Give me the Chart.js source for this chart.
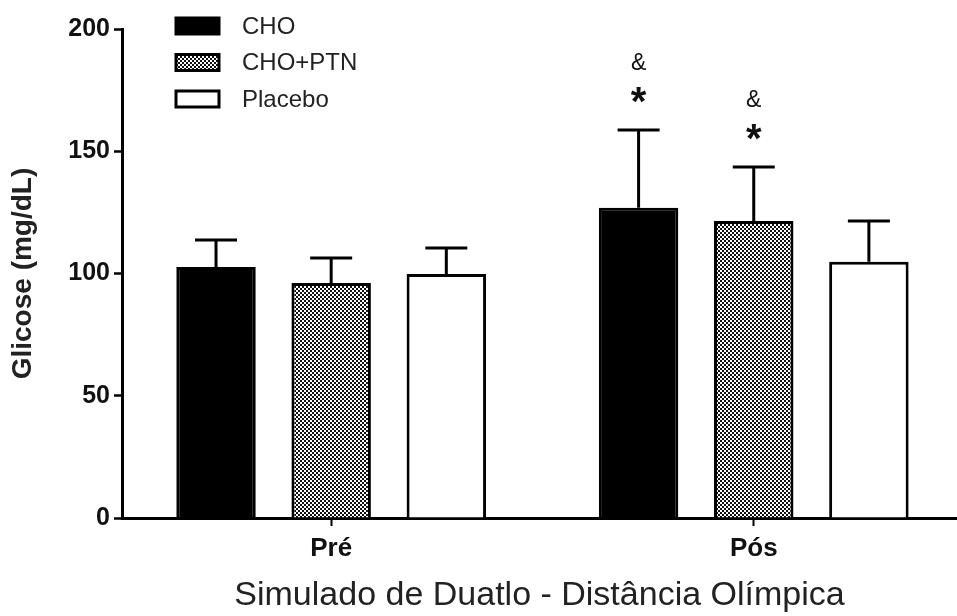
<!DOCTYPE html>
<html>
<head>
  <meta charset="UTF-8">
  <script src="https://cdn.jsdelivr.net/npm/chart.js"></script>
  <title>Glicose</title>
  <style>
    html, body { margin: 0; padding: 0; background: #fff; }
    #wrap { width: 957px; height: 616px; }
  </style>
</head>
<body>
<div id="wrap">
  <canvas id="glicose" width="957" height="616"></canvas>
</div>
<script>
  // data
  const moments = ['Pré', 'Pós'];
  const groups = ['CHO', 'CHO+PTN', 'Placebo'];
  const cho = [102.7, 126.9];
  const choPtn = [96.1, 121.5];
  const placebo = [99.8, 104.8];
  const choErr = [11.0, 31.8];
  const choPtnErr = [10.2, 22.1];
  const placeboErr = [10.6, 16.7];
  // '*' and '&' marks over each bar
  const choSig = [false, true];
  const choPtnSig = [false, true];
  const placeboSig = [false, false];
  const yTicks = [0, 50, 100, 150, 200];

  function dotPattern() {
    const c = document.createElement('canvas');
    c.width = 4; c.height = 4;
    const g = c.getContext('2d');
    g.fillStyle = '#ffffff';
    g.fillRect(0, 0, 4, 4);
    g.fillStyle = '#111111';
    g.fillRect(0, 0, 2, 2);
    g.fillRect(2, 2, 2, 2);
    return g.createPattern(c, 'repeat');
  }

  const fills = ['#000000', dotPattern(), '#ffffff'];
  const values = [cho, choPtn, placebo];
  const errs = [choErr, choPtnErr, placeboErr];
  const sigs = [choSig, choPtnSig, placeboSig];

  const errorBars = {
    id: 'errorBars',
    afterDatasetsDraw(chart) {
      const ctx = chart.ctx;
      const y = chart.scales.y;
      ctx.save();
      ctx.strokeStyle = '#000';
      ctx.lineWidth = 3;
      values.forEach((vals, d) => {
        const meta = chart.getDatasetMeta(d);
        meta.data.forEach((bar, i) => {
          const top = y.getPixelForValue(vals[i] + errs[d][i]);
          const base = y.getPixelForValue(vals[i]);
          ctx.beginPath();
          ctx.moveTo(bar.x, base);
          ctx.lineTo(bar.x, top);
          ctx.moveTo(bar.x - 21, top);
          ctx.lineTo(bar.x + 21, top);
          ctx.stroke();
          if (sigs[d][i]) {
            ctx.fillStyle = '#111';
            ctx.textAlign = 'center';
            ctx.textBaseline = 'alphabetic';
            ctx.font = 'bold 40px "Liberation Sans", Arial';
            ctx.fillText('*', bar.x, top - 15);
            ctx.font = '23px "Liberation Sans", Arial';
            ctx.fillText('&', bar.x, top - 60);
          }
        });
      });
      ctx.restore();
    }
  };

  const legendBoxes = {
    id: 'legendBoxes',
    afterDraw(chart) {
      const ctx = chart.ctx;
      ctx.save();
      chart.data.datasets.forEach((ds, d) => {
        const cy = 26 + d * 36.5;
        ctx.fillStyle = ds.backgroundColor;
        ctx.fillRect(176, cy - 8, 43, 16);
        ctx.strokeStyle = '#000';
        ctx.lineWidth = 3;
        ctx.strokeRect(176, cy - 8, 43, 16);
        ctx.fillStyle = '#222';
        ctx.font = '24px "Liberation Sans", Arial';
        ctx.textAlign = 'left';
        ctx.textBaseline = 'middle';
        ctx.fillText(ds.label, 242, cy + 1);
      });
      ctx.restore();
    }
  };

  const ctx = document.getElementById('glicose').getContext('2d');
  const config = {
    type: 'bar',
    data: {
      datasets: groups.map((name, d) => ({
        label: name,
        data: values[d].map((v, i) => ({x: i, y: v})),
        backgroundColor: fills[d],
        borderColor: '#000',
        borderWidth: 3,
        categoryPercentage: 0.8175,
        barPercentage: 0.69
      }))
    },
    options: {
      responsive: false,
      animation: false,
      devicePixelRatio: 1,
      layout: { padding: { top: 29, right: 0, left: 0, bottom: 0 } },
      plugins: { legend: { display: false }, tooltip: { enabled: false } },
      scales: {
        x: {
          type: 'linear',
          offset: false,
          min: -0.495,
          max: 1.481,
          afterBuildTicks: s => { s.ticks = moments.map((m, i) => ({value: i})); },
          afterFit: s => { s.height = 98; },
          ticks: {
            callback: v => moments[v],
            color: '#111',
            font: { family: '"Liberation Sans", Arial', size: 26, weight: 'bold' },
            padding: 7
          },
          grid: { offset: false, drawOnChartArea: false, tickLength: 8, tickWidth: 2, tickColor: '#000' },
          border: { color: '#000', width: 3 },
          title: {
            display: true,
            text: 'Simulado de Duatlo - Distância Olímpica',
            color: '#222',
            font: { family: '"Liberation Sans", Arial', size: 34 },
            padding: { top: 0, bottom: 0 }
          }
        },
        y: {
          min: 0,
          max: 200,
          afterBuildTicks: s => { s.ticks = yTicks.map(v => ({value: v})); },
          afterFit: s => { s.width = 122; },
          ticks: {
            color: '#111',
            font: { family: '"Liberation Sans", Arial', size: 25, weight: 'bold' },
            padding: 4
          },
          grid: { drawOnChartArea: false, tickLength: 8, tickWidth: 2.5, tickColor: '#000' },
          border: { color: '#000', width: 3 },
          title: {
            display: true,
            text: 'Glicose (mg/dL)',
            color: '#222',
            font: { family: '"Liberation Sans", Arial', size: 28, weight: 'bold' },
            padding: { top: 6, bottom: 4 }
          }
        }
      }
    },
    plugins: [errorBars, legendBoxes]
  };
  new Chart(ctx, config);
</script>
</body>
</html>
